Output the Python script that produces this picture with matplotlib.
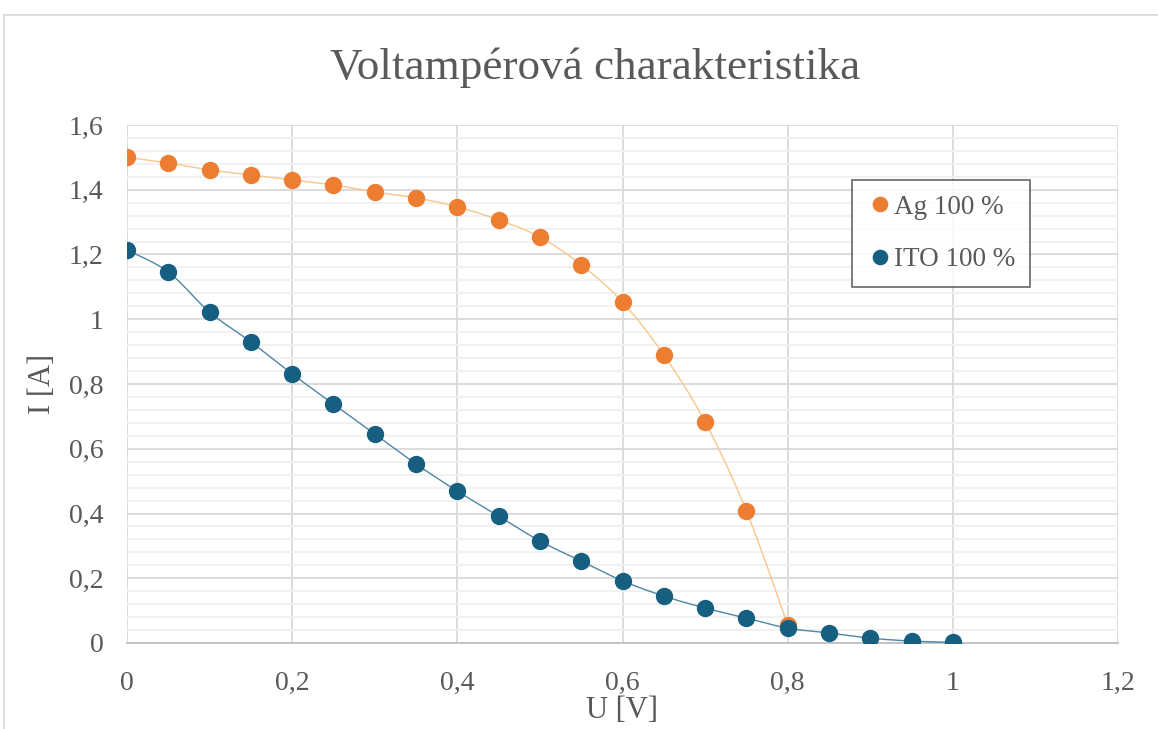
import numpy as np
import matplotlib
matplotlib.use("Agg")
import matplotlib.pyplot as plt
from matplotlib.ticker import MultipleLocator, FuncFormatter
from matplotlib.lines import Line2D

# napeti [V] a proud [A]
u_ag = [0, 0.05, 0.1, 0.15, 0.2, 0.25, 0.3, 0.35, 0.4, 0.45, 0.5, 0.55, 0.6, 0.65, 0.7, 0.75, 0.8]
i_ag = [1.50, 1.483, 1.461, 1.446, 1.430, 1.415, 1.393, 1.375, 1.347, 1.307, 1.254, 1.168,
        1.053, 0.890, 0.683, 0.408, 0.056]

u_ito = [0, 0.05, 0.1, 0.15, 0.2, 0.25, 0.3, 0.35, 0.4, 0.45, 0.5, 0.55, 0.6, 0.65, 0.7,
         0.75, 0.8, 0.85, 0.9, 0.95, 1.0]
i_ito = [1.214, 1.146, 1.022, 0.930, 0.831, 0.738, 0.646, 0.553, 0.469, 0.392, 0.315, 0.253,
         0.192, 0.145, 0.108, 0.077, 0.046, 0.031, 0.015, 0.006, 0.002]

labels = ["Ag 100 %", "ITO 100 %"]


def smooth(x, y, n=20):
    # vyhlazena cara jako v Excelu (Catmull-Rom / Bezier)
    x = np.asarray(x, float)
    y = np.asarray(y, float)
    p = np.column_stack([x, y])
    p = np.vstack([p[0], p, p[-1]])
    out = []
    t = np.linspace(0, 1, n, endpoint=False)[:, None]
    for k in range(1, len(p) - 2):
        p0, p1, p2, p3 = p[k - 1], p[k], p[k + 1], p[k + 2]
        c1 = p1 + (p2 - p0) / 6
        c2 = p2 - (p3 - p1) / 6
        seg = ((1 - t) ** 3) * p1 + 3 * ((1 - t) ** 2) * t * c1 + 3 * (1 - t) * t ** 2 * c2 + t ** 3 * p2
        out.append(seg)
    out.append(p[-2][None, :])
    out = np.vstack(out)
    return out[:, 0], out[:, 1]


plt.rcParams['font.family'] = ['Liberation Serif', 'DejaVu Serif']
txt = '#595959'

fig = plt.figure(figsize=(11.58, 7.29), dpi=100)
ax = fig.add_axes([127 / 1158, 1 - 643 / 729, 991 / 1158, 518 / 729])

# ramecek grafu
fig.add_artist(Line2D([4 / 1158, 1], [1 - 15 / 729] * 2, color='#D9D9D9', lw=1.2))
fig.add_artist(Line2D([4 / 1158] * 2, [0, 1 - 15 / 729], color='#D9D9D9', lw=1.2))

xs, ys = smooth(u_ag, i_ag)
ax.plot(xs, ys, color='#F9C68B', lw=1.0, zorder=3)
xs, ys = smooth(u_ito, i_ito)
ax.plot(xs, ys, color='#4E86A5', lw=1.0, zorder=3)
ax.plot(u_ag, i_ag, 'o', color='#ED7D31', ms=12.5, mec='none', zorder=4, label=labels[0])
ax.plot(u_ito, i_ito, 'o', color='#175F80', ms=12.5, mec='none', zorder=5, label=labels[1])

ax.set_xlim(0, 1.2)
ax.set_ylim(0, 1.6)
ax.xaxis.set_major_locator(MultipleLocator(0.2))
ax.yaxis.set_major_locator(MultipleLocator(0.2))
ax.yaxis.set_minor_locator(MultipleLocator(0.04))
fmt = FuncFormatter(lambda v, pos: f"{v:.1f}".rstrip('0').rstrip('.').replace('.', ','))
ax.xaxis.set_major_formatter(fmt)
ax.yaxis.set_major_formatter(fmt)

ax.grid(which='major', color='#D9D9D9', lw=1.3)
ax.grid(which='minor', axis='y', color='#F0F0F0', lw=1.3)
ax.set_axisbelow(True)
for s in ['top', 'right', 'left']:
    ax.spines[s].set_visible(False)
ax.spines['bottom'].set_color('#BFBFBF')
ax.spines['bottom'].set_linewidth(1.3)
ax.tick_params(which='both', length=0, labelsize=20, colors=txt)
ax.tick_params(axis='x', pad=20)
ax.tick_params(axis='y', pad=17)

fig.text(595 / 1158, 1 - 68 / 729, 'Voltampérová charakteristika', ha='center', va='center',
         fontsize=32.5, color=txt)
fig.text(622 / 1158, 1 - 711 / 729, 'U [V]', ha='center', va='center', fontsize=22, color=txt)
fig.text(43 / 1158, 1 - 384 / 729, 'I [A]', ha='center', va='center', rotation=90,
         fontsize=22, color=txt)

leg = ax.legend(loc='upper left', bbox_to_anchor=((852 - 127) / 991, (643 - 180) / 518),
                borderaxespad=0, frameon=True, fancybox=False, fontsize=19.5,
                handletextpad=0.0, handlelength=1.0, labelspacing=1.0, borderpad=0.55,
                markerscale=0.9)
leg.get_frame().set_edgecolor('#404040')
leg.get_frame().set_linewidth(1.2)
for t in leg.get_texts():
    t.set_color(txt)

fig.savefig('out.png', dpi=100, facecolor='white')
